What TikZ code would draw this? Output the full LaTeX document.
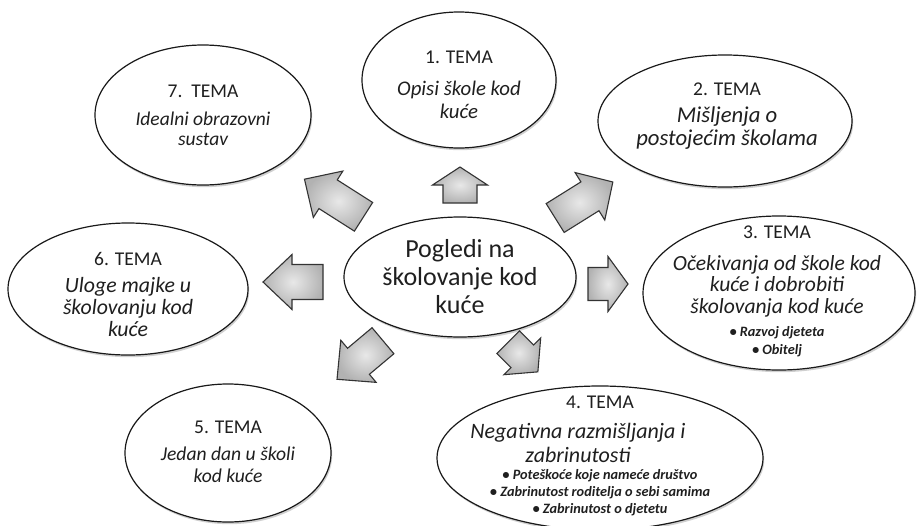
\documentclass[tikz,border=0pt]{standalone}
\usepackage{fontspec}
\setmainfont{Carlito}
\usetikzlibrary{shapes.geometric,shadows}
\newcommand\temaHd[1]{{\fontsize{19.5}{22.5}\selectfont #1}}
\newcommand\temaBd[1]{{\itshape #1}}
\newcommand\temaBl[1]{{\fontsize{14.3}{17}\selectfont\bfseries\itshape #1}}
\tikzset{
  oval/.style args={#1/#2}{ellipse, draw=black!90, line width=1.2pt, fill=white,
    inner sep=0pt, minimum width=2*#1, minimum height=2*#2,
    drop shadow={shadow xshift=1.2pt, shadow yshift=-2.2pt, opacity=0.3, fill=black!60}},
  lbl/.style args={#1/#2}{align=center, inner sep=0pt, text=black!88, anchor=north,
    font=\fontsize{#1}{#2}\selectfont},
  arrowfill/.style={draw=black!80, line width=1.1pt, line join=miter,
    shading=radial, inner color=gray!18, outer color=gray!60},
  pics/barrow/.style args={#1/#2/#3/#4}{code={
    \shade[arrowfill] (-#1/2,-#3/2) -- (#1/2-#4,-#3/2) -- (#1/2-#4,-#2/2) -- (#1/2,0)
      -- (#1/2-#4,#2/2) -- (#1/2-#4,#3/2) -- (-#1/2,#3/2) -- cycle;
  }}
}
\begin{document}
\begin{tikzpicture}[x=1pt,y=-1pt]
\useasboundingbox (0,0) rectangle (917,525);
\clip (0,0) rectangle (917,525);
\fill[white] (0,0) rectangle (917,525);

% theme ellipses
\node[oval=97/68]  (e1) at (459,80)  {};
\node[oval=127/66] (e2) at (725,121) {};
\node[oval=136/77] (e3) at (779,293) {};
\node[oval=163/72] (e4) at (600,458) {};
\node[oval=103/69] (e5) at (228,453) {};
\node[oval=120/66] (e6) at (128,289) {};
\node[oval=108/70] (e7) at (203,115) {};
\node[oval=116/60] (c)  at (460,277) {};

% texts
\node[lbl=20.8/23] (t1) at (459,50.5) {\temaHd{1. TEMA}\\[9pt]\temaBd{Opisi škole kod}\\\temaBd{kuće}};
\node[lbl=22.7/23] (t2) at (727,82.5) {\temaHd{2. TEMA}\\[4pt]\temaBd{Mišljenja o}\\\temaBd{postojećim školama}};
\node[lbl=21.6/21.5] (t3) at (777,225.5) {\temaHd{3. TEMA}\\[10.5pt]\temaBd{Očekivanja od škole kod}\\\temaBd{kuće i dobrobiti}\\\temaBd{školovanja kod kuće}\\[1.5pt]\temaBl{• Razvoj djeteta}\\[-3.5pt]\temaBl{• Obitelj}};
\node[lbl=22/24] (t4) at (600,395.5) {\temaHd{4. TEMA}\\[6pt]\temaBd{Negativna razmišljanja i}\kern44pt\mbox{}\\\temaBd{zabrinutosti}\kern44pt\mbox{}\\[-7pt]\temaBl{• Poteškoće koje nameće društvo}\\[-7pt]\temaBl{• Zabrinutost roditelja o sebi samima}\\[-7pt]\temaBl{• Zabrinutost o djetetu}};
\node[lbl=19.6/22] (t5) at (228,420.5) {\temaHd{5. TEMA}\\[5pt]\temaBd{Jedan dan u školi}\\\temaBd{kod kuće}};
\node[lbl=21.8/21.8] (t6) at (128,252.5) {\temaHd{6. TEMA}\\[5.2pt]\temaBd{Uloge majke u}\\\temaBd{školovanju kod}\\\temaBd{kuće}};
\node[lbl=19.5/20.5] (t7) at (203,84.5) {\temaHd{7.\ \ TEMA}\\[7.5pt]\temaBd{Idealni obrazovni}\\\temaBd{sustav}};
\node[lbl=26/28] (tc) at (460,239) {Pogledi na\\školovanje kod\\kuće};

% block arrows
\pic[rotate=90]    (a1) at (460,185) {barrow=36/55/34/18};
\pic[rotate=32]    (a2) at (584,200) {barrow=68/56/34/27};
\pic[rotate=0]     (a3) at (608,284) {barrow=40/55/33/20};
\pic[rotate=-45]   (a4) at (523,357) {barrow=42/52/32/22};
\pic[rotate=220]   (a5) at (360,360) {barrow=60/55/34/28};
\pic[rotate=180]   (a6) at (293,282) {barrow=60/55/35/29};
\pic[rotate=147.5] (a7) at (334,198) {barrow=70/55/34/28};
\end{tikzpicture}
\end{document}
